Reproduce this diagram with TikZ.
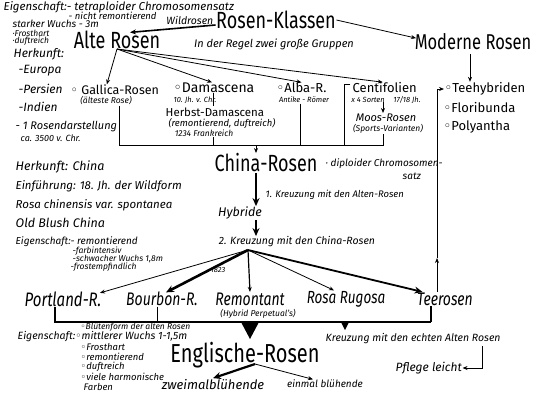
\documentclass[tikz,border=0pt]{standalone}
\usepackage{fontspec}
\setmainfont{Fira Sans}
\newfontfamily\symf{DejaVu Sans}
\usetikzlibrary{arrows.meta,calc}
\newcommand\oo{{\symf\char"25E6}}
\newcommand\fs[1]{\fontsize{#1}{#1}\selectfont}
\newcommand\tl[1]{\scalebox{1}[1.3]{#1}}
\begin{document}
\begin{tikzpicture}[x=1pt,y=-1pt,
 every node/.style={inner sep=0.5pt},
 big/.style={font=\fs{18}},
 cls/.style={font=\fs{13}},
 row/.style={font=\fs{14}\itshape},
 note/.style={font=\fs{10}\itshape, anchor=west},
 tiny/.style={font=\fs{7.5}\itshape},
 ln/.style={line width=0.8pt},
 arr/.style={line width=0.8pt,-{Stealth[length=5pt,width=4pt]}},
 thk/.style={line width=2.2pt,-{Stealth[length=8pt,width=7pt]}},
]
\useasboundingbox (0,0) rectangle (533,400);
% top
\node[note,font=\fs{11.5}\itshape] (eig1) at (3,7) {Eigenschaft:- tetraploider Chromosomensatz};
\node[note,font=\fs{9.5}\itshape] (eig2) at (68,16) {- nicht remontierend};
\node[note,font=\fs{10}\itshape] (wuchs) at (12,24) {starker Wuchs - 3m};
\node[big] (klassen) at (276,20) {\tl{Rosen-Klassen}};
\node[big] (alte) at (117,40) {\tl{Alte Rosen}};
\node[big,font=\fs{16.5}] (moderne) at (473,42) {\tl{Moderne Rosen}};
\node[font=\fs{11}\itshape] (regel) at (274,44) {In der Regel zwei große Gruppen};
\draw[line width=1.6pt,-{Stealth[length=6pt,width=5pt]}] ($(klassen.west)+(0,5)$) -- ($(alte.north)+(13,2)$)
  node[pos=0.3,above=1pt,font=\fs{10.5}\itshape] (wild) {Wildrosen};
\draw[arr] (klassen.east) -- ($(moderne.north west)+(2,5)$);
% left column
\node[note,font=\fs{8.5}\itshape] (frost) at (12,33) {·Frosthart};
\node[note,font=\fs{8.5}\itshape] (duft) at (12,41) {·duftreich};
\node[note,font=\fs{12}\itshape] (herk) at (13,54) {Herkunft:};
\node[note,font=\fs{12}\itshape] (europa) at (18,71) {-Europa};
\node[note,font=\fs{12}\itshape] (persien) at (18,89) {-Persien};
\node[note,font=\fs{12}\itshape] (indien) at (18,107) {-Indien};
\node[note,font=\fs{11}\itshape] (rosend) at (15,127) {- 1 Rosendarstellung};
\node[note,font=\fs{9}\itshape] (ca) at (20,138) {ca. 3500 v. Chr.};
% classes
\node[cls,font=\fs{12.5},anchor=west] (gallica) at (70,90) {\oo\ Gallica-Rosen};
\node[tiny,font=\fs{8.5}\itshape] (gallicasub) at (106,101) {(älteste Rose)};
\node[cls,font=\fs{14},anchor=west] (damascena) at (173,88) {\oo Damascena};
\node[tiny] (damsub) at (195,100) {10. Jh. v. Chr.};
\node[cls,anchor=west] (alba) at (276,88) {\oo Alba-R.};
\node[tiny] (albasub) at (304,100) {Antike - Römer};
\node[cls,anchor=west] (centi) at (352,88) {Centifolien};
\node[tiny] (sorten) at (368,100) {x 4 Sorten};
\node[tiny] (jh) at (407,100) {17/18 Jh.};
\node[cls,font=\fs{11.5},anchor=west] (herbst) at (165,112) {Herbst-Damascena};
\node[tiny,font=\fs{9.5}\itshape] (herbstsub) at (222,123) {(remontierend, duftreich)};
\node[tiny,font=\fs{8.5}\itshape] (frank) at (204,133) {1234 Frankreich};
\node[font=\fs{11}\itshape] (moos) at (386,118) {Moos-Rosen};
\node[tiny,font=\fs{8.5}\itshape] (sports) at (388,129) {(Sports-Varianten)};
\coordinate (af) at (117,49);
\draw[arr] (af) -- ($(gallica.north)+(-8,0)$);
\draw[arr] (af) -- ($(damascena.north)+(-2,0)$);
\draw[arr] (af) -- (alba.north);
\draw[arr] (af) -- ($(centi.north)+(-2,0)$);
\draw[ln] (213,93) -- (213,106);
\draw[arr] (383,102) -- (383,113);
% bracket
\coordinate (bl) at (119,145); \coordinate (br) at (383,145);
\coordinate (bh) at (213,145); \coordinate (ba) at (300,145); \coordinate (bc) at (344,145);
\coordinate (bar) at (256,145);
\draw[ln] (bl |- gallicasub.south) -- (bl) -- (br) -- (br |- sports.south);
\draw[ln] (bh |- frank.south) -- (bh);
\draw[ln] (ba |- albasub.south) -- (ba);
\draw[ln] (350,84) -- (344,84) -- (bc);
% china
\node[big] (china) at (266,163) {\tl{China-Rosen}};
\draw[arr] (bar) -- (bar |- china.north);
\node[note,font=\fs{10}\itshape] (diplo) at (325,164) {· diploider Chromosomen-};
\node[note,font=\fs{10}\itshape] (satz) at (402,176) {satz};
\node[font=\fs{12.5}\itshape] (hybride) at (240,213) {Hybride};
\node[note,font=\fs{9.5}\itshape] (kr1) at (265,195) {1. Kreuzung mit den Alten-Rosen};
\node[font=\fs{10.5}\itshape] (kr2) at (297,242) {2. Kreuzung mit den China-Rosen};
\draw[thk] (china.south -| bar) -- (hybride.north -| bar);
\draw[thk] (hybride.south -| bar) -- (kr2.north -| bar);
% china notes
\node[note,font=\fs{12.5}\itshape] (hc) at (15,167) {Herkunft: China};
\node[note,font=\fs{11.5}\itshape] (einf) at (15,186) {Einführung: 18. Jh. der Wildform};
\node[note,font=\fs{11.5}\itshape] (rosa) at (15,205) {Rosa chinensis var. spontanea};
\node[note,font=\fs{12.5}\itshape] (blush) at (15,223) {Old Blush China};
\node[note,font=\fs{10}\itshape] (e2) at (15,242) {Eigenschaft:- remontierend};
\node[note,font=\fs{8.5}\itshape] (e3) at (72,251) {-farbintensiv};
\node[note,font=\fs{8.5}\itshape] (e4) at (72,259) {-schwacher Wuchs 1,8m};
\node[note,font=\fs{8.5}\itshape] (e5) at (70,267) {-frostempfindlich};
% row
\node[row,font=\fs{15}\itshape] (portland) at (63,299) {\tl{Portland-R.}};
\node[row] (bourbon) at (162,299) {\tl{Bourbon-R.}};
\node[row] (remontant) at (250,299) {\tl{Remontant}};
\node[tiny,font=\fs{8.5}\itshape] (hp) at (258,314) {(Hybrid Perpetual's)};
\node[row,font=\fs{13.5}\itshape] (rugosa) at (346,299) {\tl{Rosa Rugosa}};
\node[row] (tee) at (445,299) {\tl{Teerosen}};
\node[tiny] (y1823) at (218,270) {1823};
\coordinate (k2) at (248,250);
\draw[arr] (k2) -- ($(portland.north east)+(-2,2)$);
\draw[thk,line width=2.6pt] (k2) -- ($(bourbon.north)+(4,1)$);
\draw[arr,line width=1.2pt] (k2) -- (remontant.north);
\draw[arr] (k2) -- ($(rugosa.north)+(-12,0)$);
\draw[thk,line width=1.8pt] (k2) -- ($(tee.north west)+(6,0)$);
% moderne side
\node[cls,anchor=west] (teehyb) at (444,89) {\oo Teehybriden};
\node[cls,anchor=west] (flori) at (443,108) {\oo Floribunda};
\node[cls,anchor=west] (poly) at (443,127) {\oo Polyantha};
\coordinate (tu) at (437,258);
\draw[arr] (tu |- tee.north) -- (tu);
\draw[arr] (tu) |- (teehyb.west);
\coordinate (md) at (470,54);
\draw[arr] (md) -- (md |- teehyb.north);
% bottom bar
\coordinate (bbL) at (55,322); \coordinate (bbR) at (431,322); \coordinate (bbB) at (157,322);
\draw[line width=1.6pt] (bbL |- portland.south) -- (bbL) -- (bbR);
\draw[ln] (bbB |- bourbon.south) -- (bbB);
\draw[line width=2.6pt] (bbR |- tee.south) -- (bbR);
\fill (241,322) -- (259,322) -- (250,339) -- cycle;
\fill (341,322) -- (349,322) -- (345,330) -- cycle;
% englische
\node[big,font=\fs{20}] (engl) at (245,355) {\tl{Englische-Rosen}};
\node[note,font=\fs{8.5}\itshape] (b1) at (80,327) {\oo Blütenform der alten Rosen};
\node[note,font=\fs{10.5}\itshape] (b2) at (17,337) {Eigenschaft:\oo mittlerer Wuchs 1-1,5m};
\node[note,font=\fs{9.5}\itshape] (b3) at (80,347) {\oo Frosthart};
\node[note,font=\fs{9.5}\itshape] (b4) at (80,357) {\oo remontierend};
\node[note,font=\fs{9.5}\itshape] (b5) at (80,367) {\oo duftreich};
\node[note,font=\fs{9.5}\itshape] (b6) at (80,377) {\oo viele harmonische};
\node[note,font=\fs{9.5}\itshape] (b7) at (83,387) {Farben};
\node[note,font=\fs{10.5}\itshape] (kecht) at (325,339) {Kreuzung mit den echten Alten Rosen};
\node[note,font=\fs{12}\itshape] (pflege) at (395,368) {Pflege leicht};
\coordinate (pa) at (482,346);
\draw[arr] (pa) |- (pflege.east);
\node[font=\fs{13}\itshape] (zweimal) at (213,384) {zweimalblühende};
\node[font=\fs{10}\itshape] (einmal) at (325,384) {einmal blühende};
\coordinate (eo) at (255,364);
\draw[thk] (eo) -- (zweimal.north);
\draw[arr] (eo) -- ($(einmal.north)+(-12,0)$);
\end{tikzpicture}
\end{document}
